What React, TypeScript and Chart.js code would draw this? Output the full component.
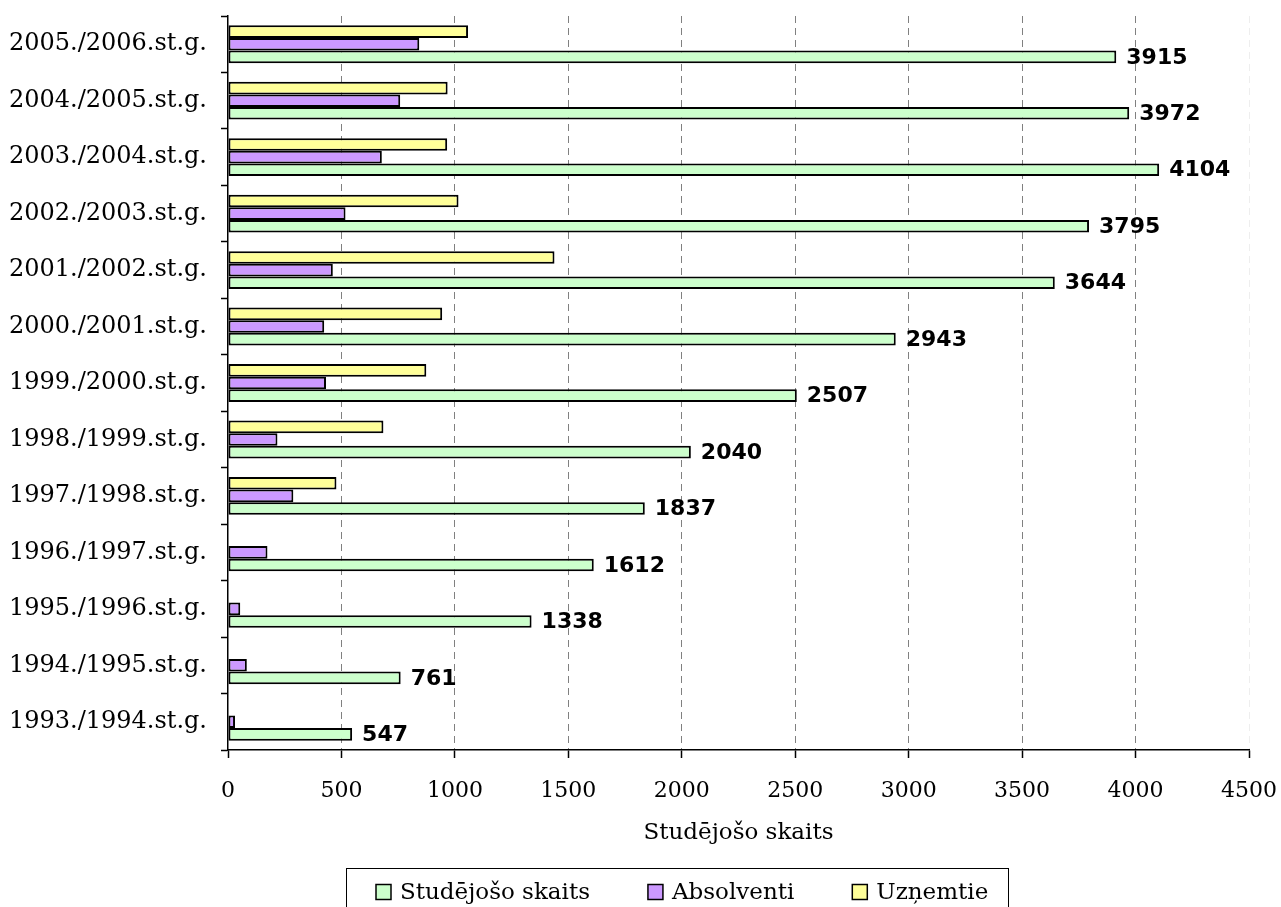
import React, { useEffect, useRef } from "react";
import { Chart, registerables } from "chart.js";

Chart.register(...registerables);

// Academic years, chronological (bottom to top in the chart)
const years = [
  "1993./1994.st.g.",
  "1994./1995.st.g.",
  "1995./1996.st.g.",
  "1996./1997.st.g.",
  "1997./1998.st.g.",
  "1998./1999.st.g.",
  "1999./2000.st.g.",
  "2000./2001.st.g.",
  "2001./2002.st.g.",
  "2002./2003.st.g.",
  "2003./2004.st.g.",
  "2004./2005.st.g.",
  "2005./2006.st.g.",
];

const studejoso = [547, 761, 1338, 1612, 1837, 2040, 2507, 2943, 3644, 3795, 4104, 3972, 3915];
const absolventi = [31, 83, 54, 174, 288, 218, 432, 424, 462, 518, 678, 759, 843];
const uznemtie = [null, null, null, null, 478, 685, 874, 944, 1439, 1016, 966, 968, 1058];

const xMin = 0;
const xMax = 4500;
const xStep = 500;

const seriesNames = ["Studējošo skaits", "Absolventi", "Uzņemtie"];
const seriesColors = ["#CCFFCC", "#CC99FF", "#FFFF99"];
const axisTitle = "Studējošo skaits";

const SERIF = "'DejaVu Serif', serif";
const SANS = "'DejaVu Sans', sans-serif";

export default function App() {
  const ref = useRef<HTMLCanvasElement>(null);

  useEffect(() => {
    if (!ref.current) return;
    const rev = <T,>(a: T[]) => [...a].reverse();
    const labelsTopDown = rev(years);

    const valueLabels = {
      id: "valueLabels",
      afterDatasetsDraw(chart: any) {
        const ctx = chart.ctx;
        const idx = chart.data.datasets.findIndex((d: any) => d.label === seriesNames[0]);
        const meta = chart.getDatasetMeta(idx);
        ctx.save();
        ctx.font = `bold 22px ${SANS}`;
        ctx.fillStyle = "#000";
        ctx.textBaseline = "middle";
        ctx.textAlign = "left";
        meta.data.forEach((bar: any, i: number) => {
          const v = chart.data.datasets[idx].data[i];
          if (v == null) return;
          ctx.fillText(String(v), bar.x + 10, bar.y + 1);
        });
        ctx.restore();
      },
    };

    const legendBox = {
      id: "legendBox",
      afterDraw(chart: any) {
        const ctx = chart.ctx;
        ctx.save();
        ctx.strokeStyle = "#000";
        ctx.lineWidth = 1;
        ctx.strokeRect(346.5, 868.5, 662, 80);
        ctx.font = `23px ${SERIF}`;
        ctx.textBaseline = "middle";
        ctx.textAlign = "left";
        let x = 376;
        const cy = 892;
        seriesNames.forEach((name, i) => {
          ctx.fillStyle = seriesColors[i];
          ctx.fillRect(x, cy - 7.5, 15, 15);
          ctx.lineWidth = 1.5;
          ctx.strokeStyle = "#000";
          ctx.strokeRect(x, cy - 7.5, 15, 15);
          ctx.fillStyle = "#000";
          ctx.fillText(name, x + 24, cy + 1);
          x += 24 + ctx.measureText(name).width + 58;
        });
        ctx.restore();
      },
    };

    const common = {
      borderColor: "#000",
      borderWidth: 2,
      borderSkipped: false,
      barPercentage: 1.0,
      categoryPercentage: 0.67,
    };

    const chart = new Chart(ref.current, {
      type: "bar",
      data: {
        labels: labelsTopDown,
        datasets: [
          { label: seriesNames[2], data: rev(uznemtie), backgroundColor: seriesColors[2], ...common },
          { label: seriesNames[1], data: rev(absolventi), backgroundColor: seriesColors[1], ...common },
          { label: seriesNames[0], data: rev(studejoso), backgroundColor: seriesColors[0], ...common },
        ] as any,
      },
      options: {
        indexAxis: "y",
        animation: false,
        responsive: false,
        layout: { padding: { top: 16, right: 32, bottom: 60, left: 0 } },
        plugins: {
          legend: { display: false },
          tooltip: { enabled: false },
        },
        scales: {
          x: {
            type: "linear",
            min: xMin,
            max: xMax,
            ticks: {
              stepSize: xStep,
              color: "#000",
              font: { family: SERIF, size: 22 },
              padding: 20,
              maxRotation: 0,
              autoSkip: false,
              callback: (v: any) => String(v),
            },
            grid: {
              color: (c: any) =>
                c.index === 0 ? "rgba(0,0,0,0)" : c.index === 9 ? "#eeeeee" : "#808080",
              lineWidth: 1,
              tickColor: "#000",
              tickLength: 8,
              tickWidth: 1.5,
            },
            border: { display: true, color: "#000", width: 1.5, dash: [7, 5] },
            title: {
              display: true,
              text: axisTitle,
              color: "#000",
              font: { family: SERIF, size: 23 },
              padding: 0,
            },
            afterFit: (s: any) => {
              s.height = 97;
              s.paddingLeft = 0;
              s.paddingRight = 0;
            },
          },
          y: {
            type: "category",
            ticks: {
              color: "#000",
              font: { family: SERIF, size: 24 },
              padding: 14,
              autoSkip: false,
            },
            grid: {
              drawOnChartArea: false,
              drawTicks: true,
              tickLength: 7,
              tickColor: "#000",
              tickWidth: 1.5,
              offset: true,
            },
            border: { display: true, color: "#000", width: 1.5 },
            afterFit: (s: any) => {
              s.width = 228;
              s.paddingTop = 0;
              s.paddingBottom = 0;
            },
          },
        },
      } as any,
      plugins: [valueLabels, legendBox],
    });

    return () => chart.destroy();
  }, []);

  return (
    <div style={{ position: "fixed", left: 0, top: 0, width: 1281, height: 907, background: "#fff" }}>
      <canvas ref={ref} width={1281} height={907} style={{ display: "block" }} />
    </div>
  );
}
